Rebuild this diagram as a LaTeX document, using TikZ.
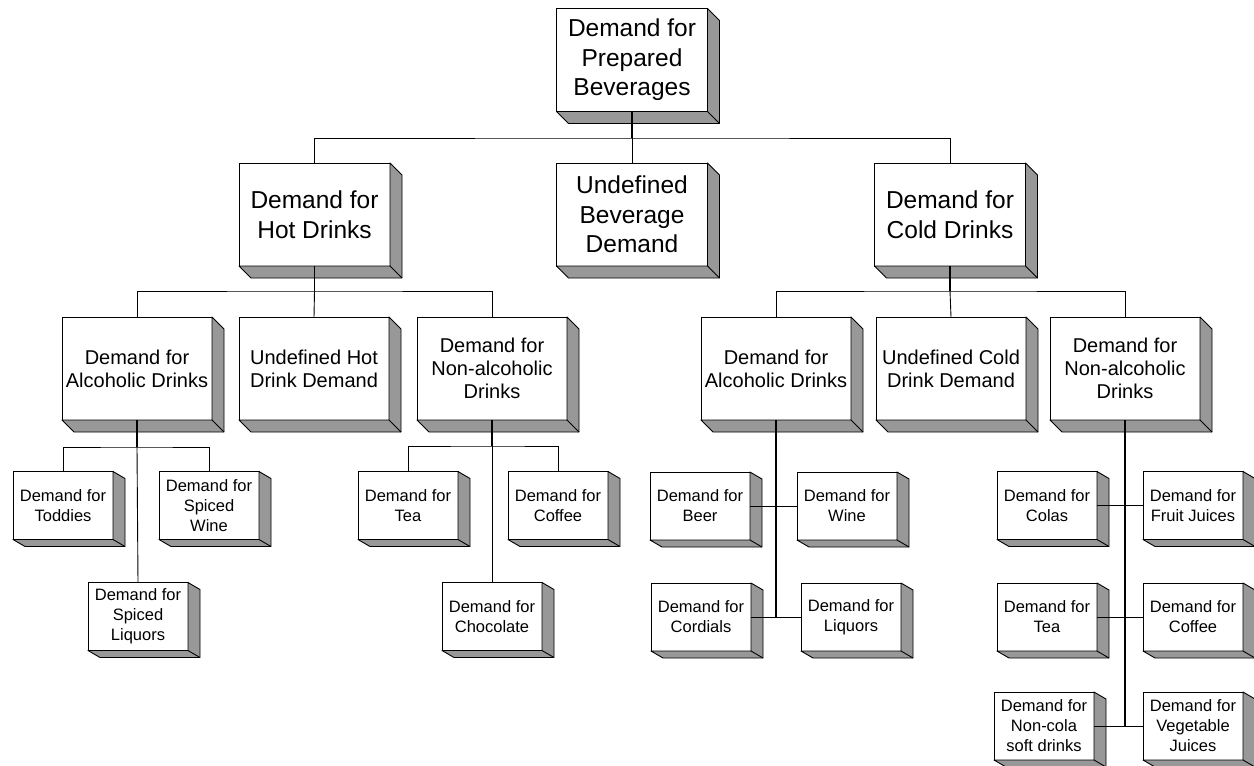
\documentclass[tikz,border=0pt]{standalone}
\usepackage{fontspec}
\setmainfont{Liberation Sans}
\usepackage{xcolor}
\usetikzlibrary{positioning}

\definecolor{sidegray}{RGB}{152,152,152}

\begin{document}
\begin{tikzpicture}[x=1pt, y=-1pt,
  bigbox/.style={draw, fill=white, line width=0.9pt, inner sep=0pt, outer sep=0pt,
    minimum width=151pt, minimum height=103pt, align=center,
    font=\fontsize{24.5}{29.5}\selectfont},
  midbox/.style={bigbox, minimum width=150pt, font=\fontsize{20}{23}\selectfont},
  smallbox/.style={bigbox, minimum width=100pt, minimum height=68pt,
    font=\fontsize{16.5}{20}\selectfont},
  side/.style={draw, fill=sidegray, line width=0.9pt, line join=round},
  link/.style={line width=0.9pt},
  stub/.style={line width=1.9pt}]
\useasboundingbox (0,0) rectangle (1254,766);

\node[bigbox](root) at (632, 60) {Demand for\\Prepared\\Beverages};

\node[bigbox](hot) at (314.5, 214.5) {Demand for\\Hot Drinks};
\node[bigbox](undefBev) at (632, 214.5) {Undefined\\Beverage\\Demand};
\node[bigbox](cold) at (950, 214.5) {Demand for\\Cold Drinks};

\node[midbox](hotAlc) at (137, 368.5) {Demand for\\Alcoholic Drinks};
\node[midbox](hotUndef) at (314, 368.5) {Undefined Hot\\Drink Demand};
\node[midbox](hotNon) at (492, 368.5) {Demand for\\Non-alcoholic\\Drinks};
\node[midbox](coldAlc) at (776, 368.5) {Demand for\\Alcoholic Drinks};
\node[midbox](coldUndef) at (951, 368.5) {Undefined Cold\\Drink Demand};
\node[midbox](coldNon) at (1125, 368.5) {Demand for\\Non-alcoholic\\Drinks};

\node[smallbox](toddies) at (63, 505.5) {Demand for\\Toddies};
\node[smallbox](spWine) at (209, 505.5) {Demand for\\Spiced\\Wine};
\node[smallbox](spLiq) at (138, 616.5) {Demand for\\Spiced\\Liquors};

\node[smallbox](hTea) at (408, 505.5) {Demand for\\Tea};
\node[smallbox](hCoffee) at (558, 505.5) {Demand for\\Coffee};
\node[smallbox](choc) at (492, 616.5) {Demand for\\Chocolate};

\node[smallbox](beer) at (700, 506) {Demand for\\Beer};
\node[smallbox](wine) at (847, 506) {Demand for\\Wine};
\node[smallbox](cordials) at (701, 617) {Demand for\\Cordials};
\node[smallbox](liquors) at (851, 617) {Demand for\\Liquors};

\node[smallbox](colas) at (1047, 505.5) {Demand for\\Colas};
\node[smallbox](fruit) at (1193, 505.5) {Demand for\\Fruit Juices};
\node[smallbox](cTea) at (1047, 617) {Demand for\\Tea};
\node[smallbox](cCoffee) at (1193, 617) {Demand for\\Coffee};
\node[smallbox](noncola) at (1044, 726) {Demand for\\Non-cola\\soft drinks};
\node[smallbox](veg) at (1193, 726) {Demand for\\Vegetable\\Juices};

\foreach \b in {root,hot,undefBev,cold,hotAlc,hotUndef,hotNon,coldAlc,coldUndef,coldNon} {
  \draw[side] (\b.north east) -- ++(12,12) -- ([shift={(12,12)}]\b.south east)
    -- ([shift={(12,12)}]\b.south west) -- (\b.south west) -- (\b.south east) -- cycle;
  \draw[link] (\b.south east) -- ++(12,12);
}
\foreach \b in {toddies,spWine,spLiq,hTea,hCoffee,choc,beer,wine,cordials,liquors,
    colas,fruit,cTea,cCoffee,noncola,veg} {
  \draw[side] (\b.north east) -- ++(12,7) -- ([shift={(12,7)}]\b.south east)
    -- ([shift={(12,7)}]\b.south west) -- (\b.south west) -- (\b.south east) -- cycle;
  \draw[link] (\b.south east) -- ++(12,7);
}

\coordinate (bus1) at (632, 138);
\draw[stub] (root.south) -- (bus1);
\draw[link] (hot.north) |- (bus1) -| (cold.north);
\draw[link] (bus1) -- (undefBev.north);

\coordinate (bus2) at (314.5, 291);
\draw[stub] (hot.south) -- (bus2);
\draw[link] (hotAlc.north) |- (bus2) -| (hotNon.north);
\draw[link] (bus2) -- (hotUndef.north);

\coordinate (bus3) at (950, 291);
\draw[stub] (cold.south) -- (bus3);
\draw[link] (coldAlc.north) |- (bus3) -| (coldNon.north);
\draw[link] (bus3) -- (coldUndef.north);

\coordinate (bus4) at (137, 447);
\draw[stub] (hotAlc.south) -- (bus4);
\draw[link] (toddies.north) |- (bus4) -| (spWine.north);
\draw[link] (bus4) -- (spLiq.north);

\coordinate (bus5) at (492, 446);
\draw[stub] (hotNon.south) -- (bus5);
\draw[link] (hTea.north) |- (bus5) -| (hCoffee.north);
\draw[link] (bus5) -- (choc.north);

\draw[stub] (coldAlc.south) -- (coldAlc.south |- cordials.east);
\draw[link] (beer.east) -- (wine.west);
\draw[link] (cordials.east) -- (liquors.west);

\draw[stub] (coldNon.south) -- (coldNon.south |- noncola.east);
\draw[link] (colas.east) -- (fruit.west);
\draw[link] (cTea.east) -- (cCoffee.west);
\draw[link] (noncola.east) -- (veg.west);
\end{tikzpicture}
\end{document}
